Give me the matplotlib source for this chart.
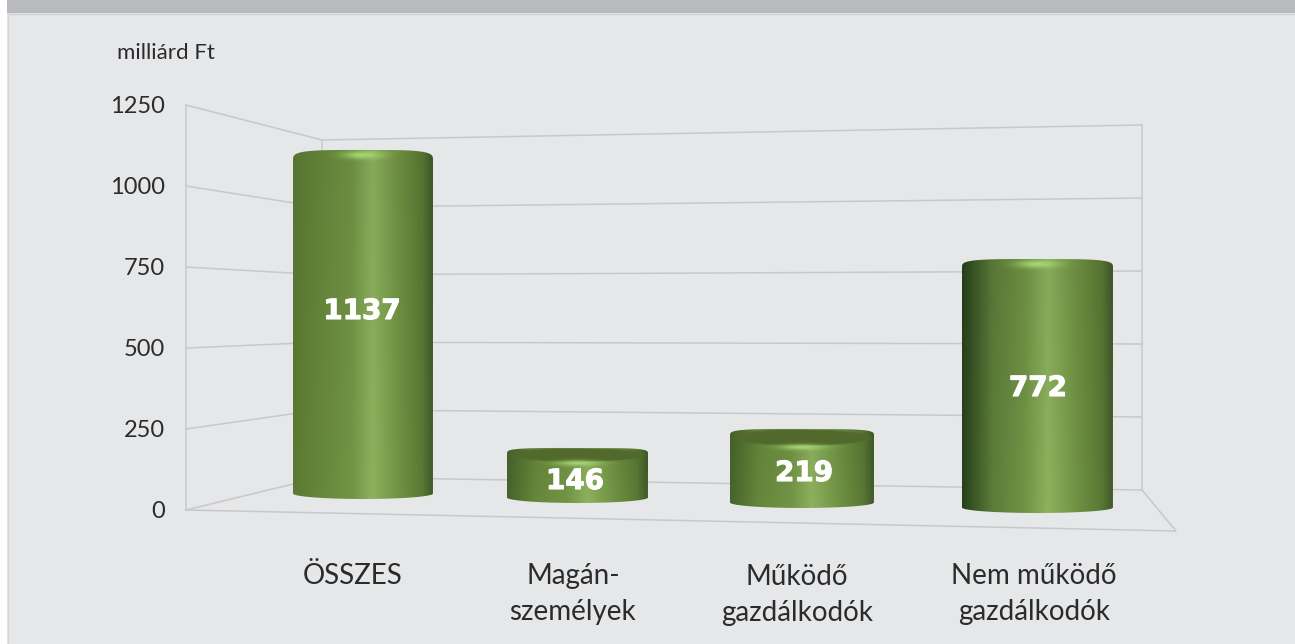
import matplotlib
matplotlib.use('Agg')
import matplotlib.pyplot as plt
import matplotlib.patheffects as pe
from matplotlib.colors import LinearSegmentedColormap, to_rgb
from matplotlib.patches import PathPatch, Rectangle
from matplotlib.path import Path
import numpy as np

# adatok
categories = ['ÖSSZES', 'Magán-\nszemélyek', 'Működő\ngazdálkodók', 'Nem működő\ngazdálkodók']
values = [1137, 146, 219, 772]
ticks = [0, 250, 500, 750, 1000, 1250]

plt.rcParams['font.family'] = ['Lato', 'DejaVu Sans']

W, H = 1295, 644
fig = plt.figure(figsize=(W / 100, H / 100), dpi=100, facecolor='white')
ax = fig.add_axes([0, 0, 1, 1])
ax.set_xlim(0, W)
ax.set_ylim(H, 0)
ax.axis('off')

# hatter
ax.add_patch(Rectangle((7, 0), W - 7, H, fc='#e6e7e9', ec='none', zorder=0))
ax.add_patch(Rectangle((7, 0), W - 7, 13, fc='#b9babd', ec='none', zorder=1))
ax.plot([8, W], [14, 14], color='#cfd0d3', lw=1, zorder=1)
ax.plot([8, 8], [14, H], color='#d4d5d8', lw=1, zorder=1)

# perspektivikus racs
GRID = '#c8c8c8'
MAX = ticks[-1]
TEXT = '#2b2b2b'


def wall_y(v, y0, y1):
    return y0 + (y1 - y0) * v / MAX


FRONT_L = (186, 510, 105)
BACK_L = (322, 477, 140)
BACK_R = (1142, 490, 125)
for t in ticks:
    yf = wall_y(t, FRONT_L[1], FRONT_L[2])
    yl = wall_y(t, BACK_L[1], BACK_L[2])
    yr = wall_y(t, BACK_R[1], BACK_R[2])
    ax.plot([FRONT_L[0], BACK_L[0], BACK_R[0]], [yf, yl, yr], color=GRID, lw=1.1, zorder=2)
    ax.text(165, yf + 1, str(t), ha='right', va='center', fontsize=17, color=TEXT)
for c in (FRONT_L, BACK_L, BACK_R):
    ax.plot([c[0], c[0]], [c[1], c[2]], color=GRID, lw=1.1, zorder=2)
ax.plot([186, 1176, 1142], [510, 531, 490], color=GRID, lw=1.1, zorder=2)

ax.text(117, 53, 'milliárd Ft', ha='left', va='center', fontsize=16, color=TEXT)

# hengerek
x_left = [293, 507, 730, 962]
x_right = [433, 648, 874, 1113]
base_y = [499, 503, 508, 513]
px_per_unit = [0.307, 0.377, 0.361, 0.329]
top_ry = [11, 6, 7, 9]
rim_ry = [0, 6.5, 8, 0]
label_y = [311, 481, 473, 388]
label_x = [362, 575, 804, 1038]
cat_x = [353, 573, 797, 1034]
cat_y = [576, 594, 595, 594]

left_shades = ['#5a7732', '#46632a', '#46632a', '#26401a']
body_mid = '#6f9143'
body_hi = '#8aae5c'
right_shade = '#40592a'


def cyl_path(x0, x1, ytop, ybot, ry_t, ry_b):
    xc, rx = (x0 + x1) / 2, (x1 - x0) / 2
    th = np.linspace(np.pi, 0, 80)
    # kerekitett felso szel, also ellipszis iv
    e = np.abs(np.cos(th)) ** 0.5 * np.sign(np.cos(th))
    upper = np.c_[xc + rx * e, ytop + ry_t * (1 - np.sin(th) ** 0.5)]
    lower = np.c_[xc + rx * np.cos(th[::-1]), ybot - ry_b + ry_b * np.sin(th[::-1])]
    pts = np.vstack([upper, lower])
    return Path(np.vstack([pts, pts[0]]))


def glow(xc, rx, y_hi, y_lo, alpha, color='#a6d672'):
    gx = np.linspace(-1, 1, 100)
    gy = np.linspace(-1, 1, 30)
    a = np.exp(-(gx[None, :] / 0.4) ** 2 - (gy[:, None] / 0.5) ** 2)
    rgba = np.zeros((30, 100, 4))
    rgba[..., :3] = to_rgb(color)
    rgba[..., 3] = a * alpha
    return ax.imshow(rgba, extent=(xc - rx, xc + rx, y_lo, y_hi), aspect='auto', zorder=3.5)


for i, v in enumerate(values):
    x0, x1 = x_left[i], x_right[i]
    ybot = base_y[i]
    ytop = ybot - v * px_per_unit[i]
    n = x1 - x0
    cmap = LinearSegmentedColormap.from_list(
        'c', [(0, left_shades[i]), (0.2, '#64853a' if i < 3 else '#5a7a38'), (0.42, body_mid),
              (0.57, body_hi), (0.75, body_mid), (0.93, '#587632'), (1, right_shade)])
    col = cmap(np.linspace(0, 1, n))[:, :3]
    yy = np.linspace(0, 1, 120)
    img = np.repeat(col[None, :, :], 120, axis=0) * (0.97 + 0.05 * yy[:, None, None])
    p = PathPatch(cyl_path(x0, x1, ytop, ybot, top_ry[i], 5.5), fc='none', ec='none', transform=ax.transData)
    ax.add_patch(p)
    im = ax.imshow(np.clip(img, 0, 1), extent=(x0, x1, ybot, ytop), aspect='auto', zorder=3,
                   interpolation='bilinear')
    im.set_clip_path(p)

    xc, rx = (x0 + x1) / 2, (x1 - x0) / 2
    if rim_ry[i] > 0:
        # latszik a henger teteje, elmosott also szellel
        ry = rim_ry[i]
        gx, gy = np.meshgrid(np.linspace(-1, 1, 200), np.linspace(-1, 1, 40))
        r = np.sqrt(gx ** 2 + gy ** 2)
        rgba = np.zeros((40, 200, 4))
        rgba[..., :3] = to_rgb('#52692c')
        rgba[..., 3] = np.clip((1.02 - r) / 0.12, 0, 1)
        top = ax.imshow(rgba, extent=(x0, x1, ytop + 2 * ry + 1, ytop), aspect='auto', zorder=3.4,
                        interpolation='bilinear')
        top.set_clip_path(p)
        g = glow(xc, rx * 0.75, ytop + 2 * ry - 4, ytop + 2 * ry + 8, 0.95)
        g.set_clip_path(p)
    else:
        g = glow(xc, rx * 0.7, ytop - 3, ytop + 13, 1.0)
        g.set_clip_path(p)

    ax.text(label_x[i], label_y[i], str(v), ha='center', va='center', fontsize=20, fontweight='bold',
            color='white', zorder=5, family=['DejaVu Sans'],
            path_effects=[pe.withStroke(linewidth=0.8, foreground='white')])
    ax.text(cat_x[i], cat_y[i], categories[i], ha='center', va='center', fontsize=20,
            color=TEXT, linespacing=1.45, zorder=5)

ax.set_xlim(0, W)
ax.set_ylim(H, 0)

plt.savefig('out.png', dpi=100)
